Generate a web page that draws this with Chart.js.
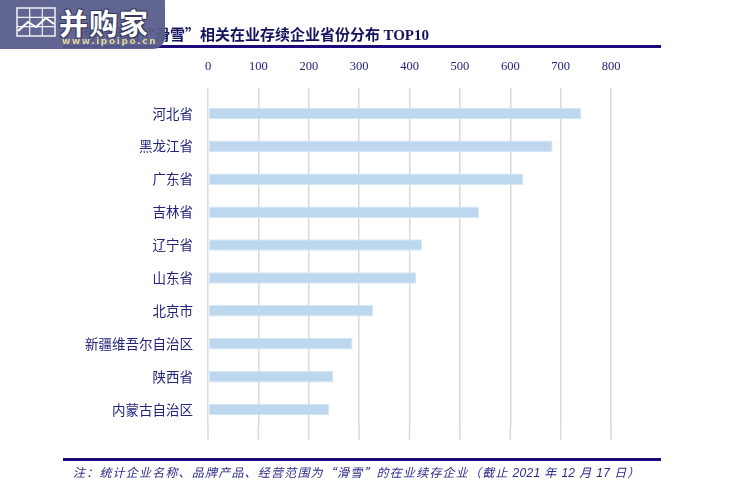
<!DOCTYPE html>
<html>
<head>
<meta charset="utf-8">
<script src="https://cdn.jsdelivr.net/npm/chart.js@4"></script>
<style>
  html, body { margin: 0; padding: 0; background: #fff; }
  #wrap { position: relative; width: 731px; height: 482px; overflow: hidden; }
  #chart { position: absolute; left: 0; top: 0; }
  .rule { position: absolute; left: 63px; width: 598px; height: 3px; background: #1c0a7c; }
  #title { position: absolute; left: 80px; top: 23px; font: bold 15px "Noto Sans CJK SC", sans-serif; color: #16135e; white-space: nowrap; }
  #title .en { font-family: "Liberation Serif", serif; font-size: 15px; }
  #note { position: absolute; left: 73px; top: 463px; font: italic 12px "Noto Sans CJK SC", sans-serif; color: #2a2a8a; white-space: nowrap; letter-spacing: 1.2px; }
  #note .en { font-family: "Liberation Sans", sans-serif; letter-spacing: 0.3px; }
  #logo { position: absolute; left: -12px; top: -10px; width: 177px; height: 59px; background: #585d8c; border-radius: 12px; opacity: 0.95; }
  #logo svg { position: absolute; left: 28px; top: 17px; }
  #logo .name { position: absolute; left: 71px; top: 11px; font: bold 29px "Noto Sans CJK SC", sans-serif; color: #fff; letter-spacing: 1px;
    text-shadow: 1px 1px 0 #2c2f55, -1px 1px 0 #2c2f55, 1px -1px 0 #2c2f55, -1px -1px 0 #2c2f55; }
  #logo .url { position: absolute; left: 74px; top: 46px; font: bold 9px "DejaVu Sans", sans-serif; color: #e6d49a; letter-spacing: 1.6px; }
</style>
</head>
<body>
<div id="wrap">
  <canvas id="chart" width="731" height="482"></canvas>
  <div class="rule" style="top:45px"></div>
  <div class="rule" style="top:458px"></div>
  <div id="title">图：我国“滑雪”相关在业存续企业省份分布 <span class="en">TOP10</span></div>
  <div id="note">注：统计企业名称、品牌产品、经营范围为“滑雪”的在业续存企业（截止 <span class="en">2021</span> 年 <span class="en">12</span> 月 <span class="en">17</span> 日）</div>
  <div id="logo">
    <svg width="40" height="30" viewBox="0 0 40 30">
      <rect x="1" y="1" width="38" height="28" fill="none" stroke="#f2f2f2" stroke-width="1.5"/>
      <line x1="13.7" y1="1" x2="13.7" y2="29" stroke="#f2f2f2" stroke-width="1.2"/>
      <line x1="26.3" y1="1" x2="26.3" y2="29" stroke="#f2f2f2" stroke-width="1.2"/>
      <line x1="1" y1="10.3" x2="39" y2="10.3" stroke="#f2f2f2" stroke-width="1.2"/>
      <line x1="1" y1="19.7" x2="39" y2="19.7" stroke="#f2f2f2" stroke-width="1.2"/>
      <polyline points="2,24 12,15 20,20 30,11 38,17" fill="none" stroke="#ffffff" stroke-width="2"/>
    </svg>
    <div class="name">并购家</div>
    <div class="url">www.ipoipo.cn</div>
  </div>
</div>
<script>
// 省份（从上到下）
var provinces = ["河北省", "黑龙江省", "广东省", "吉林省", "辽宁省", "山东省", "北京市", "新疆维吾尔自治区", "陕西省", "内蒙古自治区"];
// 在业存续企业数量
var companyCounts = [741, 684, 626, 538, 425, 413, 328, 287, 249, 241];
// 横轴刻度
var axisMin = 0;
var axisMax = 800;
var axisStep = 100;

var gridColor = "#d9d9d9";
var labelColor = "#23237e";

// 网格线在绘图区下方再延伸一点
var gridExtend = {
    id: "gridExtend",
    beforeDatasetsDraw: function(chart){
        var ctx = chart.ctx;
        var xs = chart.scales.x;
        var area = chart.chartArea;
        ctx.save();
        ctx.strokeStyle = gridColor;
        ctx.lineWidth = 1.5;
        xs.ticks.forEach(function(t){
            var px = xs.getPixelForValue(t.value);
            ctx.beginPath();
            ctx.moveTo(px, area.bottom);
            ctx.lineTo(px, area.bottom + 14);
            ctx.stroke();
        });
        ctx.restore();
    }
};

new Chart(document.getElementById("chart"), {
    type: "bar",
    data: {
        labels: provinces,
        datasets: [{
            data: companyCounts,
            backgroundColor: "#bdd7ee",
            borderColor: "#d6e6f5",
            borderWidth: 1,
            borderSkipped: false,
            barPercentage: 0.35,
            categoryPercentage: 1
        }]
    },
    options: {
        indexAxis: "y",
        responsive: false,
        animation: false,
        layout: { padding: { left: 0, right: 120, top: 0, bottom: 56 } },
        plugins: { legend: { display: false }, tooltip: { enabled: false } },
        scales: {
            x: {
                position: "top",
                min: axisMin,
                max: axisMax,
                ticks: {
                    stepSize: axisStep,
                    padding: 14,
                    color: labelColor,
                    font: { family: "Liberation Serif", size: 12.5 }
                },
                grid: { color: gridColor, lineWidth: 1.5, tickLength: 9, tickColor: gridColor },
                border: { display: false },
                afterFit: function(scale){ scale.height = 97; }
            },
            y: {
                ticks: {
                    padding: 15,
                    color: labelColor,
                    font: { family: "Noto Sans CJK SC", size: 13.5 }
                },
                grid: { display: false, drawTicks: false },
                border: { display: false },
                afterFit: function(scale){ scale.width = 208; }
            }
        }
    },
    plugins: [gridExtend]
});
</script>
</body>
</html>
